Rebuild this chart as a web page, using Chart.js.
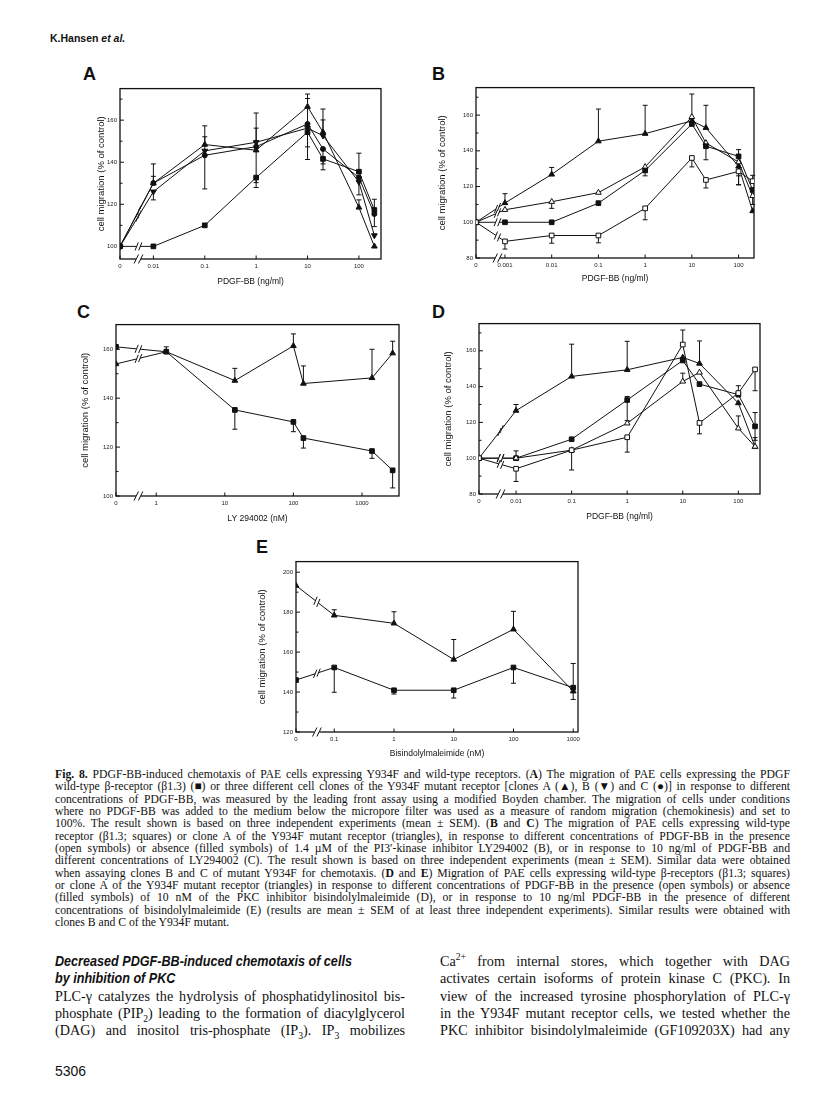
<!DOCTYPE html>
<html><head><meta charset="utf-8">
<script src="https://cdn.jsdelivr.net/npm/chart.js@4.4.0/dist/chart.umd.min.js"></script>
<style>
body{margin:0;background:#fff;width:816px;height:1104px;position:relative;overflow:hidden;color:#111}
canvas{position:absolute}
.hdr{position:absolute;left:50px;top:32px;font:bold 10.5px "Liberation Sans",Arial,sans-serif}
.plab{position:absolute;font:bold 18px "Liberation Sans",Arial,sans-serif;line-height:20px}
.cap{position:absolute;left:55px;top:769px;width:735px;font:11.7px/12.35px "Liberation Serif","Times New Roman",serif}
.cap div,.col div{white-space:nowrap;text-align:left}
.col{position:absolute;top:953px;font:14.2px/17.3px "Liberation Serif","Times New Roman",serif}
.col .hd span{display:inline-block;white-space:nowrap;font:italic bold 14px/17.3px "Liberation Sans",Arial,sans-serif;transform:scaleX(0.9);transform-origin:0 50%}
sub,sup{font-size:68%;line-height:0}
.pg{position:absolute;left:55px;top:1063px;font:14px "Liberation Sans",Arial,sans-serif}
</style></head>
<body>
<div class="hdr">K.Hansen <i>et al.</i></div>
<div class="plab" style="left:83px;top:64px">A</div>
<div class="plab" style="left:432px;top:64px">B</div>
<div class="plab" style="left:77px;top:302px">C</div>
<div class="plab" style="left:432px;top:302px">D</div>
<div class="plab" style="left:256px;top:537px">E</div>
<canvas id="cA"></canvas><canvas id="cB"></canvas><canvas id="cC"></canvas><canvas id="cD"></canvas><canvas id="cE"></canvas>
<div class="cap">
<div class="j"><b>Fig. 8.</b> PDGF-BB-induced chemotaxis of PAE cells expressing Y934F and wild-type receptors. (<b>A</b>) The migration of PAE cells expressing the PDGF</div>
<div class="j">wild-type β-receptor (β1.3) (■) or three different cell clones of the Y934F mutant receptor [clones A (▲), B (▼) and C (●)] in response to different</div>
<div class="j">concentrations of PDGF-BB, was measured by the leading front assay using a modified Boyden chamber. The migration of cells under conditions</div>
<div class="j">where no PDGF-BB was added to the medium below the micropore filter was used as a measure of random migration (chemokinesis) and set to</div>
<div class="j">100%. The result shown is based on three independent experiments (mean ± SEM). (<b>B</b> and <b>C</b>) The migration of PAE cells expressing wild-type</div>
<div class="j">receptor (β1.3; squares) or clone A of the Y934F mutant receptor (triangles), in response to different concentrations of PDGF-BB in the presence</div>
<div class="j">(open symbols) or absence (filled symbols) of 1.4 µM of the PI3′-kinase inhibitor LY294002 (B), or in response to 10 ng/ml of PDGF-BB and</div>
<div class="j">different concentrations of LY294002 (C). The result shown is based on three independent experiments (mean ± SEM). Similar data were obtained</div>
<div class="j">when assaying clones B and C of mutant Y934F for chemotaxis. (<b>D</b> and <b>E</b>) Migration of PAE cells expressing wild-type β-receptors (β1.3; squares)</div>
<div class="j">or clone A of the Y934F mutant receptor (triangles) in response to different concentrations of PDGF-BB in the presence (open symbols) or absence</div>
<div class="j">(filled symbols) of 10 nM of the PKC inhibitor bisindolylmaleimide (D), or in response to 10 ng/ml PDGF-BB in the presence of different</div>
<div class="j">concentrations of bisindolylmaleimide (E) (results are mean ± SEM of at least three independent experiments). Similar results were obtained with</div>
<div>clones B and C of the Y934F mutant.</div>
</div>
<div class="col" style="left:55px;width:350px">
<div class="hd"><span>Decreased PDGF-BB-induced chemotaxis of cells</span></div>
<div class="hd"><span>by inhibition of PKC</span></div>
<div class="j">PLC-γ catalyzes the hydrolysis of phosphatidylinositol bis-</div>
<div class="j">phosphate (PIP<sub>2</sub>) leading to the formation of diacylglycerol</div>
<div class="j">(DAG) and inositol tris-phosphate (IP<sub>3</sub>). IP<sub>3</sub> mobilizes</div>
</div>
<div class="col" style="left:440px;width:350px">
<div class="j">Ca<sup>2+</sup> from internal stores, which together with DAG</div>
<div class="j">activates certain isoforms of protein kinase C (PKC). In</div>
<div class="j">view of the increased tyrosine phosphorylation of PLC-γ</div>
<div class="j">in the Y934F mutant receptor cells, we tested whether the</div>
<div class="j">PKC inhibitor bisindolylmaleimide (GF109203X) had any</div>
</div>
<div class="pg">5306</div>
<script>
// ---------- Panel A : PDGF-BB (ng/ml) ----------
const aConc = [0, 0.01, 0.1, 1, 10, 20, 100, 200];
const aTickConc = [0, 0.01, 0.1, 1, 10, 100];
const aTickLabels = ['0', '0.01', '0.1', '1', '10', '100'];
const aYTicks = [100, 110, 120, 130, 140, 150, 160, 170];
const aWT = [100, 100, 110, 132.7, 154.3, 141.6, 135.5, 117.3];
const aWTHi = [null, null, null, null, null, null, 144.3, 122.4];
const aWTLo = [null, null, null, 130.3, 141.3, 136.4, null, null];
const aCloneA = [100, 130, 148.4, 145.7, 166.4, 154.3, 118.5, 100];
const aCloneAHi = [null, 139.2, 157.3, 163.4, 172.4, 165.3, 122.1, null];
const aCloneALo = [null, null, null, 128, null, null, null, null];
const aCloneB = [100, 126, 145.4, 149.5, 156.2, 152.6, 130.6, 105.2];
const aCloneBHi = [null, null, 152.1, 156.2, null, 160.1, null, null];
const aCloneBLo = [null, 122.1, null, null, 147.3, null, 124.5, null];
const aCloneC = [100, 130.1, 143.3, 147.4, 158.2, 146.3, 132.7, 115.4];
const aCloneCHi = [null, 133.3, null, null, 170.3, null, null, null];
const aCloneCLo = [null, null, 127.3, null, null, 139.2, null, 109.4];

// ---------- Panel B : PDGF-BB (ng/ml), +/- LY294002 ----------
const bConc = [0, 0.001, 0.01, 0.1, 1, 10, 20, 100, 200];
const bTickConc = [0, 0.001, 0.01, 0.1, 1, 10, 100];
const bTickLabels = ['0', '0.001', '0.01', '0.1', '1', '10', '100'];
const bYTicks = [80, 90, 100, 110, 120, 130, 140, 150, 160, 170];
const bCloneA = [100, 110.8, 126.8, 145.4, 149.6, 156.8, 152.9, 131.3, 106.3];
const bCloneAHi = [null, 116, 130.7, 163.4, 165.5, 171.8, 165.5, null, null];
const bCloneALo = [null, null, null, null, null, null, null, 121, null];
const bCloneALY = [100, 107, 111.5, 116.6, 131, 159, 144.4, 133.7, 114.8];
const bCloneALYLo = [null, null, 107.8, null, null, null, null, 126, 110];
const bWT = [100, 100, 100, 110.7, 129, 155, 142.6, 136.9, 118.1];
const bWTHi = [null, null, null, null, null, null, null, 140.7, null];
const bWTLo = [null, null, null, null, 126, null, 135, null, null];
const bWTLY = [100, 89.3, 92.6, 92.6, 107.8, 136, 123.7, 128.5, 123];
const bWTLYHi = [null, null, null, null, null, null, null, null, 126.3];
const bWTLYLo = [null, 85, 88.3, 88.5, 101.4, 131, 119.2, 121, null];

// ---------- Panel C : LY 294002 (nM) ----------
const cConc = [0, 1.4, 14, 100, 140, 1400, 2800];
const cTickConc = [0, 1, 10, 100, 1000];
const cTickLabels = ['0', '1', '10', '100', '1000'];
const cYTicks = [100, 110, 120, 130, 140, 150, 160];
const cCloneA = [154, 159, 147.2, 161.4, 146, 148.3, 158.4];
const cCloneAHi = [null, 161, 152.2, 166.3, 153.2, 160, 163.3];
const cWT = [161, 159, 135.2, 130.3, 123.7, 118.4, 110.5];
const cWTLo = [null, null, 127.3, 126.3, 119.6, 115.4, 103.3];

// ---------- Panel D : PDGF-BB (ng/ml), +/- bisindolylmaleimide ----------
const dConc = [0, 0.01, 0.1, 1, 10, 20, 100, 200];
const dTickConc = [0, 0.01, 0.1, 1, 10, 100];
const dTickLabels = ['0', '0.01', '0.1', '1', '10', '100'];
const dYTicks = [80, 90, 100, 110, 120, 130, 140, 150, 160, 170];
const dCloneA = [100, 126.6, 145.7, 149.4, 156.3, 152.9, 130.8, 106.3];
const dCloneAHi = [null, 130, 163.7, 165.3, null, 165.5, null, null];
const dWT = [100, 100, 110.6, 132.5, 154.6, 141.4, 135.5, 117.8];
const dWTHi = [null, null, null, 134.5, null, null, 140.5, 125.5];
const dWTLo = [null, null, null, 121, null, null, null, 110];
const dWTBis = [100, 94.1, 104.5, 111.7, 163.5, 119.7, 136.4, 149.6];
const dWTBisHi = [null, null, null, null, 171.6, null, null, null];
const dWTBisLo = [null, 87, 93.4, 103.4, null, 113.6, null, 137.7];
const dCloneABis = [100, 100, 104.5, 119.5, 142.9, 147.9, 116.7, 106.5];
const dCloneABisHi = [null, 104.1, null, null, 147.5, null, 123.6, 111.5];

// ---------- Panel E : Bisindolylmaleimide (nM) ----------
const eConc = [0, 0.1, 1, 10, 100, 1000];
const eTickConc = [0, 0.1, 1, 10, 100, 1000];
const eTickLabels = ['0', '0.1', '1', '10', '100', '1000'];
const eYTicks = [120, 130, 140, 150, 160, 170, 180, 190, 200];
const eCloneA = [193.3, 178.4, 174.4, 156.3, 171.4, 140.4];
const eCloneAHi = [null, 181.2, 180.2, 166.3, 180.4, null];
const eCloneALo = [null, null, null, null, null, 136.3];
const eWT = [146, 152.3, 140.9, 140.9, 152.3, 142.2];
const eWTHi = [null, null, null, null, null, 154.3];
const eWTLo = [null, 139.9, 139, 137, 144.4, null];

const yTitle = 'cell migration (% of control)';

// justify each text line to its column width
document.querySelectorAll('div.j').forEach(div => {
  const width = div.parentElement.clientWidth;
  div.innerHTML = '<span>' + div.innerHTML + '</span>';
  const w = div.firstChild.getBoundingClientRect().width;
  const n = (div.textContent.match(/ /g) || []).length;
  if (n > 0) div.style.wordSpacing = ((width - w) / n) + 'px';
});

Chart.defaults.font.family = '"Liberation Sans", Arial, sans-serif';
Chart.defaults.color = '#111';

const INK = '#111';
function seg(ctx, x1, y1, x2, y2) { ctx.beginPath(); ctx.moveTo(x1, y1); ctx.lineTo(x2, y2); ctx.stroke(); }

const framePlugin = {
  id: 'frame',
  beforeDatasetsDraw(chart, args, opts) {
    const { ctx, chartArea: a, scales: { x, y } } = chart;
    ctx.save();
    ctx.strokeStyle = INK;
    ctx.lineWidth = 1.3;
    ctx.strokeRect(a.left, a.top, a.right - a.left, a.bottom - a.top);
    ctx.lineWidth = 1;
    y.ticks.forEach(t => {
      const py = y.getPixelForValue(t.value);
      const len = (t.value % 20 === 0) ? 4 : 2.5;
      seg(ctx, a.left, py, a.left + len, py);
    });
    x.ticks.forEach(t => {
      const px = x.getPixelForValue(t.value);
      seg(ctx, px, a.bottom, px, a.bottom - 3.5);
    });
    const bx = x.getPixelForValue(opts.breakAt);
    ctx.fillStyle = '#fff';
    ctx.fillRect(bx - 2.5, a.bottom - 1.5, 5, 3);
    [-2.2, 2.2].forEach(d => seg(ctx, bx + d - 2.2, a.bottom + 4.5, bx + d + 2.2, a.bottom - 4.5));
    ctx.restore();
  }
};

const errPlugin = {
  id: 'err',
  beforeDatasetsDraw(chart) {
    const { ctx, scales: { y } } = chart;
    ctx.save();
    ctx.strokeStyle = INK;
    ctx.lineWidth = 1;
    chart.data.datasets.forEach((ds, di) => {
      const meta = chart.getDatasetMeta(di);
      meta.data.forEach((pt, i) => {
        [ds.errHi, ds.errLo].forEach(arr => {
          if (!arr || arr[i] == null) return;
          const y1 = y.getPixelForValue(arr[i]);
          seg(ctx, pt.x, pt.y, pt.x, y1);
          seg(ctx, pt.x - 2.5, y1, pt.x + 2.5, y1);
        });
      });
    });
    ctx.restore();
  }
};

const breakPlugin = {
  id: 'lbreak',
  afterDatasetsDraw(chart, args, opts) {
    const { ctx, scales: { x } } = chart;
    const bx = x.getPixelForValue(opts.breakAt);
    ctx.save();
    chart.data.datasets.forEach((ds, di) => {
      const meta = chart.getDatasetMeta(di);
      if (meta.data.length < 2) return;
      const p0 = meta.data[0], p1 = meta.data[1];
      const t = (bx - p0.x) / (p1.x - p0.x);
      if (t <= 0 || t >= 1) return;
      const by = p0.y + t * (p1.y - p0.y);
      const dx = p1.x - p0.x, dy = p1.y - p0.y, L = Math.hypot(dx, dy);
      const ux = dx / L, uy = dy / L;
      ctx.strokeStyle = '#fff';
      ctx.lineWidth = 3;
      seg(ctx, bx - 1.8 * ux, by - 1.8 * uy, bx + 1.8 * ux, by + 1.8 * uy);
      ctx.strokeStyle = INK;
      ctx.lineWidth = 1;
      [-1.8, 1.8].forEach(d => {
        const cx = bx + d * ux, cy = by + d * uy;
        seg(ctx, cx - 1.6, cy + 4, cx + 1.6, cy - 4);
      });
    });
    ctx.restore();
  }
};

function posOf(c, zero) { return c > 0 ? Math.log10(c) : zero; }

function ds(conc, zero, values, style, opts) {
  const o = opts || {};
  return {
    data: conc.map((c, i) => ({ x: posOf(c, zero), y: values[i] })),
    borderColor: INK, borderWidth: 1, tension: 0,
    pointStyle: style, pointRotation: o.rot || 0,
    pointRadius: style === 'circle' ? 2.5 : 3.3,
    pointBackgroundColor: o.open ? '#fff' : INK,
    pointBorderColor: INK, pointBorderWidth: 1,
    errHi: o.hi || null, errLo: o.lo || null
  };
}

function panel(id, frame, yW, xH, conc, zero, xMax, breakAt, tickConc, tickLabels, yMin, yMax, yTicks, xTitle, datasets) {
  const padT = 6, padR = 6;
  const cv = document.getElementById(id);
  const W = yW + (frame.r - frame.l) + padR;
  const H = padT + (frame.b - frame.t) + xH;
  cv.width = W; cv.height = H;
  cv.style.left = (frame.l - yW) + 'px';
  cv.style.top = (frame.t - padT) + 'px';
  cv.style.width = W + 'px'; cv.style.height = H + 'px';
  new Chart(cv.getContext('2d'), {
    type: 'line',
    data: { datasets },
    options: {
      responsive: false, animation: false, devicePixelRatio: 1,
      layout: { padding: { top: padT, right: padR, left: 0, bottom: 0 } },
      plugins: { legend: { display: false }, tooltip: { enabled: false },
        frame: { breakAt }, lbreak: { breakAt } },
      scales: {
        x: {
          type: 'linear', min: zero, max: xMax,
          afterBuildTicks: sc => { sc.ticks = tickConc.map(c => ({ value: posOf(c, zero) })); },
          ticks: { autoSkip: false, maxRotation: 0, minRotation: 0, padding: 4,
            font: { size: 6 }, color: '#222',
            callback: (v, i) => tickLabels[i] },
          grid: { display: false, drawTicks: false }, border: { display: false },
          title: { display: true, text: xTitle, font: { size: 8.5 }, padding: 0, color: INK },
          afterFit: sc => { sc.height = xH; }
        },
        y: {
          type: 'linear', min: yMin, max: yMax,
          afterBuildTicks: sc => { sc.ticks = yTicks.map(v => ({ value: v })); },
          ticks: { padding: 3, font: { size: 6 }, color: '#222',
            callback: v => (v % 20 === 0 ? String(v) : '') },
          grid: { display: false, drawTicks: false }, border: { display: false },
          title: { display: true, text: yTitle, font: { size: 9.5 }, padding: 0, color: INK },
          afterFit: sc => { sc.width = yW; }
        }
      }
    },
    plugins: [framePlugin, errPlugin, breakPlugin]
  });
}

panel('cA', { l: 120, t: 88, r: 381, b: 259 }, 24, 28, aConc, -2.65, 2.43, -2.29,
  aTickConc, aTickLabels, 94, 175, aYTicks, 'PDGF-BB (ng/ml)', [
    ds(aConc, -2.65, aWT, 'rect', { hi: aWTHi, lo: aWTLo }),
    ds(aConc, -2.65, aCloneA, 'triangle', { hi: aCloneAHi, lo: aCloneALo }),
    ds(aConc, -2.65, aCloneB, 'triangle', { rot: 180, hi: aCloneBHi, lo: aCloneBLo }),
    ds(aConc, -2.65, aCloneC, 'circle', { hi: aCloneCHi, lo: aCloneCLo })
  ]);

panel('cB', { l: 476, t: 87, r: 754, b: 258 }, 39, 26, bConc, -3.62, 2.33, -3.16,
  bTickConc, bTickLabels, 80, 175.4, bYTicks, 'PDGF-BB (ng/ml)', [
    ds(bConc, -3.62, bWTLY, 'rect', { open: true, hi: bWTLYHi, lo: bWTLYLo }),
    ds(bConc, -3.62, bWT, 'rect', { hi: bWTHi, lo: bWTLo }),
    ds(bConc, -3.62, bCloneALY, 'triangle', { open: true, lo: bCloneALYLo }),
    ds(bConc, -3.62, bCloneA, 'triangle', { hi: bCloneAHi, lo: bCloneALo })
  ]);

panel('cC', { l: 116, t: 324, r: 399, b: 496 }, 36, 28, cConc, -0.587, 3.54, -0.26,
  cTickConc, cTickLabels, 100, 170.1, cYTicks, 'LY 294002 (nM)', [
    ds(cConc, -0.587, cWT, 'rect', { lo: cWTLo }),
    ds(cConc, -0.587, cCloneA, 'triangle', { hi: cCloneAHi })
  ]);

panel('cD', { l: 479, t: 323, r: 760, b: 494 }, 36, 28, dConc, -2.667, 2.39, -2.28,
  dTickConc, dTickLabels, 80, 175.2, dYTicks, 'PDGF-BB (ng/ml)', [
    ds(dConc, -2.667, dWTBis, 'rect', { open: true, hi: dWTBisHi, lo: dWTBisLo }),
    ds(dConc, -2.667, dCloneABis, 'triangle', { open: true, hi: dCloneABisHi }),
    ds(dConc, -2.667, dWT, 'rect', { hi: dWTHi, lo: dWTLo }),
    ds(dConc, -2.667, dCloneA, 'triangle', { hi: dCloneAHi })
  ]);

panel('cE', { l: 296, t: 561, r: 578, b: 732 }, 39, 27, eConc, -1.64, 3.08, -1.29,
  eTickConc, eTickLabels, 120, 205.3, eYTicks, 'Bisindolylmaleimide (nM)', [
    ds(eConc, -1.64, eWT, 'rect', { hi: eWTHi, lo: eWTLo }),
    ds(eConc, -1.64, eCloneA, 'triangle', { hi: eCloneAHi, lo: eCloneALo })
  ]);
</script>
</body></html>
